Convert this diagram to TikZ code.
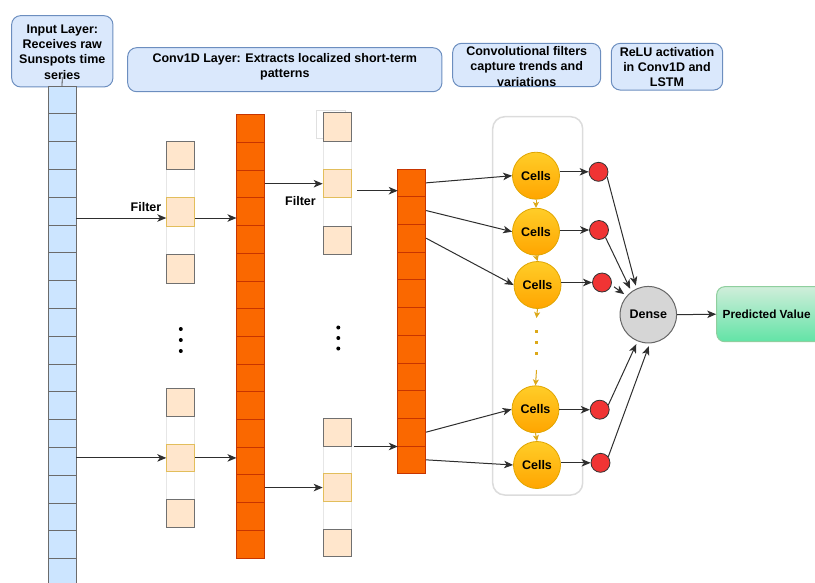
\documentclass[tikz,border=0pt]{standalone}
\usepackage{fontspec}
\setmainfont{Liberation Sans}
\usetikzlibrary{arrows.meta,calc}
\definecolor{lblfill}{HTML}{DAE8FC}
\definecolor{lblborder}{HTML}{6C8EBF}
\definecolor{inblue}{HTML}{CCE5FF}
\definecolor{ingray}{HTML}{6B6B6B}
\definecolor{ofill}{HTML}{FA6800}
\definecolor{oborder}{HTML}{C73500}
\definecolor{fpeach}{HTML}{FFE6CC}
\definecolor{fgray}{HTML}{707070}
\definecolor{fyellow}{HTML}{E2BE5C}
\definecolor{fwhiteb}{HTML}{E6E6E6}
\definecolor{cellb}{HTML}{E0A500}
\definecolor{celltop}{HTML}{FFCD28}
\definecolor{cellbot}{HTML}{FFA500}
\definecolor{redfill}{HTML}{F03434}
\definecolor{densefill}{HTML}{D6D6D6}
\definecolor{densebord}{HTML}{666666}
\definecolor{predtop}{HTML}{D0EEDA}
\definecolor{predbot}{HTML}{62E3A6}
\definecolor{predbord}{HTML}{8FCF9E}
\definecolor{contg}{HTML}{DCDCDC}
\definecolor{arrgray}{HTML}{2E2E2E}
\definecolor{yarrc}{HTML}{DCA818}
\begin{document}
\begin{tikzpicture}[x=1pt,y=-1pt,
  font=\fontsize{12.5}{15.4}\selectfont\bfseries,
  lbl/.style={draw=lblborder, fill=lblfill, rounded corners=9pt, line width=1pt, inner sep=0pt},
  lbltxt/.style={align=center, inner sep=0pt},
  incell/.style={draw=ingray, fill=inblue, line width=0.8pt, minimum width=28pt, minimum height=27.8pt, inner sep=0pt},
  ocell/.style={draw=oborder, fill=ofill, line width=0.8pt, minimum width=28pt, minimum height=27.7pt, inner sep=0pt},
  fsq/.style={draw=fgray, fill=fpeach, line width=1pt, minimum width=28pt, inner sep=0pt},
  fmid/.style={fsq, draw=fyellow},
  fwhite/.style={fsq, draw=fwhiteb, fill=white},
  cellc/.style={circle, draw=cellb, top color=celltop, bottom color=cellbot, minimum size=47pt, inner sep=0pt, line width=0.8pt},
  redc/.style={circle, draw=black!80, fill=redfill, minimum size=19pt, inner sep=0pt, line width=0.8pt},
  arr/.style={draw=arrgray, line width=1pt, -{Stealth[length=9pt,width=7.5pt,inset=2.5pt]}},
  yarr/.style={draw=yarrc, line width=1pt, -{Stealth[length=6pt,width=6pt,inset=1.5pt]}},
  dotsty/.style={draw=yarrc, line width=3pt, dash pattern=on 3pt off 8pt},
  invis/.style={inner sep=0pt, outer sep=0pt}
]
\useasboundingbox (0,0) rectangle (815,582);
\clip (0,0) rectangle (815,582);

% ---------- top labels ----------
\node[lbl, minimum width=101.3pt, minimum height=71.3pt] (lab1) at (62.3,51.3) {};
\node[lbltxt] (lab1t) at (62.3,52) {Input Layer:\\Receives raw\\Sunspots time\\series};
\node[lbl, minimum width=314.3pt, minimum height=44pt] (lab2) at (284.8,69.7) {};
\node[lbltxt] (lab2t) at (284.8,66.5) {Conv1D Layer: Extracts localized short-term\\patterns};
\node[lbl, minimum width=148pt, minimum height=43.4pt] (lab3) at (526.7,65) {};
\node[lbltxt] (lab3t) at (526.7,66.2) {Convolutional filters\\capture trends and\\variations};
\node[lbl, minimum width=111.4pt, minimum height=46.7pt] (lab4) at (667,66.7) {};
\node[lbltxt] (lab4t) at (667,67) {ReLU activation\\in Conv1D and\\LSTM};

% ---------- input column ----------
\foreach \i in {0,...,17} \node[incell] (in\i) at (62,{99.9+27.8*\i}) {};
\node[invis, minimum width=28pt, minimum height=500.4pt] (inp) at (62,336.2) {};
\coordinate (inTop) at (62.3,77);
\draw[black!70, line width=0.8pt] (inTop) -- (inp.north);

% ---------- orange columns ----------
\foreach \i in {0,...,15} \node[ocell] (o1c\i) at (250.5,{128.55+27.7*\i}) {};
\node[invis, minimum width=28pt, minimum height=443.2pt] (o1) at (250.5,336.3) {};
\foreach \i in {0,...,10} \node[ocell] (o2c\i) at (411.8,{182.85+27.7*\i}) {};
\node[invis, minimum width=28pt, minimum height=304.7pt] (o2) at (411.8,321.35) {};

% ---------- filter columns ----------
\node[draw=black!12, line width=0.8pt, minimum width=29pt, minimum height=27.3pt, inner sep=0pt] (ghost) at (330.5,124.4) {};
\foreach \col/\x/\top/\h in {f1t/180.8/141/28.4, f1b/180.8/388.4/27.8, f2t/337.2/112.7/28.4, f2b/337.2/418.3/27.7}{
  \node[fwhite, minimum height=\h*1pt] (\col2) at (\x,{\top+\h*1.5}) {};
  \node[fwhite, minimum height=\h*1pt] (\col4) at (\x,{\top+\h*3.5}) {};
  \node[fsq, minimum height=\h*1pt] (\col1) at (\x,{\top+\h*0.5}) {};
  \node[fsq, minimum height=\h*1pt] (\col5) at (\x,{\top+\h*4.5}) {};
  \node[fmid, minimum height=\h*1pt] (\col3) at (\x,{\top+\h*2.5}) {};
}
\foreach \y in {329,340,351} \fill (180.8,\y) circle (2pt);
\foreach \y in {327.5,338,348.5} \fill (338.3,\y) circle (2pt);

\node[inner sep=0pt] (flt1) at (146,207) {Filter};
\node[inner sep=0pt] (flt2) at (300.5,201) {Filter};

% ---------- conv arrows ----------
\coordinate (p1) at ([yshift=-6pt]f1t3.west);
\draw[arr] (inp.east |- p1) -- (p1);
\draw[arr] (p1 -| f1t3.east) -- (p1 -| o1.west);
\draw[arr] (inp.east |- f1b3) -- (f1b3.west);
\draw[arr] (f1b3.east) -- (o1.west |- f1b3);
\draw[arr] (o1.east |- f2t3) -- (f2t3.west);
\coordinate (q1) at ([xshift=5.5pt,yshift=-7pt]f2t3.east);
\draw[arr] (q1) -- (q1 -| o2.west);
\draw[arr] (o1.east |- f2b3) -- (f2b3.west);
\coordinate (q2) at ([xshift=2pt]f2b1.south east);
\draw[arr] (q2) -- (q2 -| o2.west);

% ---------- LSTM cells ----------
\node[draw=contg, line width=1.5pt, rounded corners=12pt, minimum width=90pt, minimum height=378.3pt, inner sep=0pt] (cont) at (537.7,305.85) {};
\node[cellc] (c1) at (536,175.7) {Cells};
\node[cellc] (c2) at (536,231.7) {Cells};
\node[cellc] (c3) at (537.5,285) {Cells};
\node[cellc] (c4) at (535.5,409.3) {Cells};
\node[cellc] (c5) at (537,465) {Cells};

\draw[yarr] (c1.south) -- (c2.north);
\draw[yarr] (c2.south) -- (c3.north);
\draw[yarr] (c4.south) -- (c5.north);
\coordinate (d1) at (536.5,318);
\coordinate (d2) at (536.5,330);
\coordinate (d3) at (536.5,356);
\coordinate (d4) at (536.5,370);
\draw[yarr] (c3.south) -- (d1);
\draw[dotsty] (d2) -- (d3);
\draw[yarr] (d4) -- (c4.north);

\draw[arr] (o2c0.east) -- (c1.west);
\draw[arr] (o2c1.east) -- (c2.west);
\draw[arr] (o2c2.east) -- (c3.west);
\draw[arr] (o2c9.east) -- (c4.west);
\draw[arr] (o2c10.east) -- (c5.west);

% ---------- activations ----------
\node[redc] (r1) at (598.5,171.8) {};
\node[redc] (r2) at (599,230) {};
\node[redc] (r3) at (602,282.5) {};
\node[redc] (r4) at (599.7,409.7) {};
\node[redc] (r5) at (600.5,462.8) {};
\draw[arr] (c1.east |- r1) -- (r1.west);
\draw[arr] (c2.east |- r2) -- (r2.west);
\draw[arr] (c3.east |- r3) -- (r3.west);
\draw[arr] (c4.east |- r4) -- (r4.west);
\draw[arr] (c5.east |- r5) -- (r5.west);

% ---------- dense & output ----------
\node[circle, draw=densebord, fill=densefill, line width=1pt, minimum size=56.5pt, inner sep=0pt] (dense) at (648.3,314.7) {Dense};
\node[draw=predbord, top color=predtop, bottom color=predbot, rounded corners=8pt, line width=1pt, minimum width=109.3pt, minimum height=55pt, inner sep=0pt] (pred) at (771.35,314.2) {};
\node[anchor=west, inner sep=0pt, font=\fontsize{11.8}{14}\selectfont\bfseries] (predt) at (722.5,314.2) {Predicted Value};

\draw[arr, shorten >=3pt] (r1.-30) -- (dense.114);
\draw[arr, shorten >=3pt] (r2.-49) -- (dense.126);
\draw[arr, shorten >=3pt, shorten <=3pt] (r3.-15) -- (dense.139);
\draw[arr, shorten >=3pt] (r4.29) -- (dense.248);
\draw[arr, shorten >=3pt] (r5.38) -- (dense.273);
\draw[arr] (dense.east) -- (pred.west);
\end{tikzpicture}
\end{document}
